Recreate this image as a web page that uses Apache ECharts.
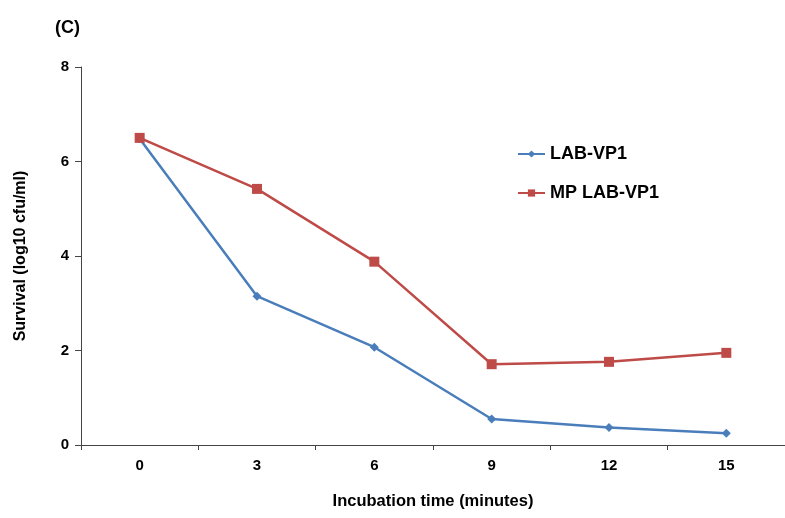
<!DOCTYPE html>
<html><head><meta charset="utf-8">
<script src="https://cdn.jsdelivr.net/npm/echarts@6/dist/echarts.min.js"></script>
<style>html,body{margin:0;padding:0;background:#fff}#c{width:785px;height:518px}</style>
</head><body><div id="c"></div>
<script>
const categories = ['0','3','6','9','12','15'];
const labVP1 = [6.48, 3.15, 2.07, 0.55, 0.37, 0.25];
const mpLabVP1 = [6.50, 5.42, 3.88, 1.71, 1.76, 1.95];
const yTicks = [0, 2, 4, 6, 8];

const chart = echarts.init(document.getElementById('c'));
const font = 'Liberation Sans, Arial, sans-serif';
chart.setOption({
  animation: false,
  backgroundColor: '#fff',
  title: { text: '(C)', left: 55, top: 19, padding: 0, textStyle: { fontFamily: font, fontWeight: 'bold', fontSize: 18, color: '#000' } },
  legend: {
    orient: 'vertical', left: 517, top: 145, padding: 0, itemGap: 21, itemWidth: 27, itemHeight: 9,
    textStyle: { fontFamily: font, fontWeight: 'bold', fontSize: 18, color: '#000' },
    data: ['LAB-VP1', 'MP LAB-VP1']
  },
  grid: { left: 81, right: -5, top: 67, bottom: 73, containLabel: false },
  xAxis: {
    type: 'category', data: categories, boundaryGap: true,
    name: 'Incubation time (minutes)', nameLocation: 'middle', nameGap: 48,
    nameTextStyle: { fontFamily: font, fontWeight: 'bold', fontSize: 16.5, color: '#000' },
    axisLine: { lineStyle: { color: '#444', width: 1 } },
    axisTick: { show: true, length: 5, lineStyle: { color: '#444' } },
    axisLabel: { fontFamily: font, fontWeight: 'bold', fontSize: 15, color: '#000', margin: 13 },
    splitLine: { show: false }
  },
  yAxis: {
    type: 'value', min: yTicks[0], max: yTicks[yTicks.length - 1], interval: 2,
    name: 'Survival (log10 cfu/ml)', nameLocation: 'middle', nameGap: 52, nameRotate: 90,
    nameTextStyle: { fontFamily: font, fontWeight: 'bold', fontSize: 16, color: '#000' },
    axisLine: { show: true, lineStyle: { color: '#444', width: 1 } },
    axisTick: { show: true, length: 6, lineStyle: { color: '#444' } },
    axisLabel: { fontFamily: font, fontWeight: 'bold', fontSize: 15, color: '#000', margin: 12 },
    splitLine: { show: false }
  },
  series: [
    { name: 'LAB-VP1', type: 'line', data: labVP1, color: '#4a7ebb',
      symbol: 'diamond', symbolSize: 9, lineStyle: { width: 2.5, color: '#4a7ebb' },
      itemStyle: { color: '#4a7ebb' } },
    { name: 'MP LAB-VP1', type: 'line', data: mpLabVP1, color: '#be4b48',
      symbol: 'rect', symbolSize: 10, lineStyle: { width: 2.5, color: '#be4b48' },
      itemStyle: { color: '#be4b48' } }
  ]
});
</script></body></html>
